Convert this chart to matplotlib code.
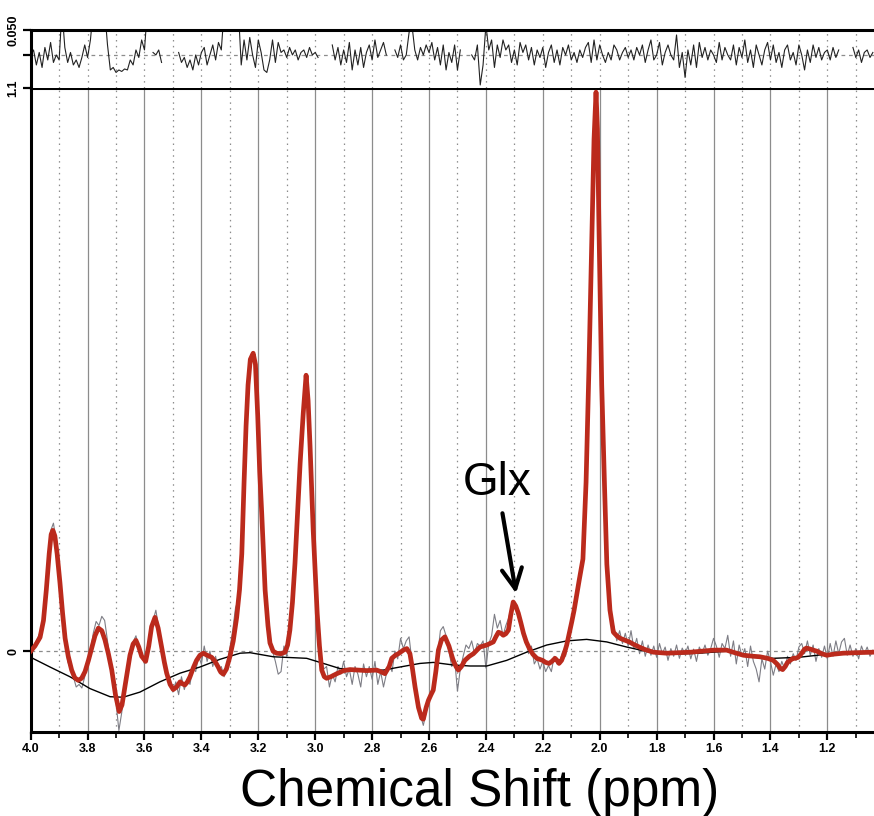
import numpy as np
import matplotlib
matplotlib.use("Agg")
import matplotlib.pyplot as plt
from matplotlib.ticker import FixedLocator

# ---- data (ppm, amplitude) ----
major_ticks = [4.0, 3.8, 3.6, 3.4, 3.2, 3.0, 2.8, 2.6, 2.4, 2.2, 2.0, 1.8, 1.6, 1.4, 1.2]
minor_ticks = [3.9, 3.7, 3.5, 3.3, 3.1, 2.9, 2.7, 2.5, 2.3, 2.1, 1.9, 1.7, 1.5, 1.3, 1.1]
major_labels = ["%.1f" % t for t in major_ticks]

# measured data (gray), sampled every 0.01 ppm from 4.00 down to 1.04
data_ppm = np.linspace(4.00, 1.04, 297)
data_val = [
    0.000, 0.010, 0.020, 0.033, 0.040, 0.090, 0.160, 0.235, 0.250, 0.215,
    0.160, 0.085, 0.030, -0.020, -0.035, -0.050, -0.070, -0.065, -0.072, -0.050,
    -0.025, 0.000, 0.035, 0.058, 0.050, 0.068, 0.060, 0.020, -0.020, -0.060,
    -0.100, -0.155, -0.120, -0.075, -0.040, -0.010, 0.018, 0.030, 0.005, -0.005,
    -0.025, -0.010, 0.030, 0.060, 0.080, 0.045, 0.015, -0.010, -0.045, -0.055,
    -0.080, -0.060, -0.085, -0.050, -0.075, -0.055, -0.065, -0.030, -0.040, -0.010,
    -0.025, 0.010, -0.020, 0.000, -0.030, -0.010, -0.040, -0.030, -0.050, -0.025,
    0.005, 0.040, 0.085, 0.100, 0.170, 0.330, 0.470, 0.560, 0.585, 0.555,
    0.440, 0.310, 0.170, 0.080, 0.030, 0.000, -0.020, -0.045, -0.040, 0.010,
    -0.010, 0.035, 0.100, 0.180, 0.290, 0.390, 0.480, 0.540, 0.440, 0.280,
    0.140, 0.050, -0.010, -0.035, -0.030, -0.070, -0.045, -0.060, -0.030, -0.045,
    -0.020, -0.050, -0.035, -0.065, -0.030, -0.045, -0.070, -0.025, -0.050, -0.030,
    -0.055, -0.020, -0.065, -0.040, -0.070, -0.045, -0.025, -0.040, 0.000, -0.015,
    0.025, 0.005, 0.020, 0.028, -0.020, -0.060, -0.090, -0.125, -0.145, -0.120,
    -0.090, -0.080, -0.055, -0.010, 0.040, 0.048, 0.030, 0.000, -0.030, -0.015,
    -0.078, -0.035, -0.010, 0.012, 0.005, 0.020, -0.005, 0.015, 0.010, 0.020,
    -0.033, 0.015, 0.030, 0.072, 0.045, 0.060, 0.030, 0.050, 0.065, 0.085,
    0.090, 0.075, 0.065, 0.040, 0.025, -0.005, 0.010, -0.025, -0.015, -0.035,
    -0.020, -0.040, -0.028, -0.040, -0.010, -0.025, -0.020, 0.000, -0.010, 0.030,
    0.050, 0.085, 0.115, 0.150, 0.190, 0.300, 0.500, 0.740, 1.000, 1.070,
    0.740, 0.450, 0.250, 0.130, 0.060, 0.048, 0.020, 0.040, 0.015, 0.035,
    0.010, 0.040, 0.005, 0.025, -0.005, 0.020, -0.010, 0.012, -0.008, 0.010,
    -0.012, 0.015, -0.005, 0.008, -0.018, 0.005, -0.010, 0.012, -0.014, 0.006,
    -0.006, 0.010, -0.015, 0.004, -0.020, 0.008, -0.004, 0.012, -0.008, 0.005,
    0.025, 0.010, -0.012, 0.015, 0.005, 0.031, -0.010, 0.020, -0.025, 0.012,
    -0.010, 0.005, -0.030, 0.010, -0.020, -0.035, -0.060, -0.015, -0.035, 0.000,
    -0.020, -0.047, -0.025, -0.040, -0.020, -0.035, -0.010, -0.025, -0.005, -0.018,
    0.008, 0.015, -0.005, 0.020, -0.008, 0.012, -0.020, 0.005, -0.012, 0.010,
    -0.015, 0.015, -0.010, 0.020, -0.005, 0.018, 0.025, -0.008, 0.012, -0.010,
    0.005, -0.015, 0.010, -0.005, 0.008, -0.010, 0.002]

# model fit (red)
fit_ppm = [
    4.000, 3.985, 3.967, 3.955, 3.945, 3.935, 3.928, 3.922, 3.915, 3.907,
    3.897, 3.888, 3.879, 3.868, 3.856, 3.845, 3.833, 3.821, 3.809, 3.797,
    3.786, 3.774, 3.762, 3.750, 3.739, 3.727, 3.715, 3.702, 3.689, 3.679,
    3.669, 3.660, 3.651, 3.640, 3.630, 3.620, 3.610, 3.596, 3.585, 3.575,
    3.563, 3.552, 3.540, 3.530, 3.522, 3.510, 3.499, 3.487, 3.475, 3.466,
    3.458, 3.449, 3.440, 3.428, 3.417, 3.405, 3.393, 3.380, 3.364, 3.352,
    3.341, 3.332, 3.323, 3.312, 3.300, 3.288, 3.276, 3.266, 3.258, 3.250,
    3.243, 3.236, 3.228, 3.218, 3.210, 3.202, 3.195, 3.188, 3.176, 3.166,
    3.159, 3.148, 3.136, 3.120, 3.106, 3.097, 3.089, 3.080, 3.071, 3.062,
    3.053, 3.042, 3.032, 3.025, 3.018, 3.007, 2.993, 2.985, 2.977, 2.968,
    2.960, 2.945, 2.924, 2.900, 2.878, 2.850, 2.819, 2.784, 2.770, 2.755,
    2.740, 2.731, 2.718, 2.708, 2.690, 2.678, 2.667, 2.658, 2.649, 2.637,
    2.626, 2.620, 2.610, 2.602, 2.593, 2.585, 2.576, 2.567, 2.556, 2.544,
    2.530, 2.515, 2.505, 2.497, 2.486, 2.474, 2.458, 2.444, 2.421, 2.397,
    2.374, 2.365, 2.356, 2.347, 2.339, 2.330, 2.321, 2.313, 2.304, 2.295,
    2.286, 2.277, 2.268, 2.258, 2.248, 2.235, 2.221, 2.201, 2.190, 2.178,
    2.168, 2.157, 2.150, 2.143, 2.134, 2.125, 2.116, 2.107, 2.098, 2.090,
    2.081, 2.072, 2.059, 2.048, 2.038, 2.027, 2.020, 2.013, 2.008, 2.003,
    1.993, 1.983, 1.975, 1.964, 1.952, 1.940, 1.928, 1.910, 1.896, 1.880,
    1.861, 1.840, 1.812, 1.765, 1.720, 1.680, 1.640, 1.600, 1.554, 1.520,
    1.495, 1.460, 1.437, 1.410, 1.390, 1.375, 1.365, 1.357, 1.348, 1.340,
    1.331, 1.320, 1.313, 1.302, 1.290, 1.280, 1.273, 1.260, 1.250, 1.237,
    1.220, 1.202, 1.180, 1.144, 1.100, 1.036]
fit_val = [
    0.000, 0.010, 0.027, 0.060, 0.120, 0.190, 0.228, 0.236, 0.225, 0.190,
    0.133, 0.075, 0.025, -0.010, -0.037, -0.052, -0.057, -0.053, -0.040, -0.018,
    0.005, 0.030, 0.045, 0.040, 0.022, -0.005, -0.037, -0.085, -0.118, -0.105,
    -0.070, -0.038, -0.008, 0.014, 0.021, 0.008, -0.010, -0.020, 0.010, 0.048,
    0.066, 0.045, 0.008, -0.022, -0.043, -0.065, -0.075, -0.070, -0.060, -0.064,
    -0.066, -0.060, -0.050, -0.032, -0.018, -0.008, -0.004, -0.008, -0.012, -0.020,
    -0.031, -0.041, -0.045, -0.035, -0.011, 0.020, 0.066, 0.120, 0.190, 0.330,
    0.440, 0.520, 0.570, 0.582, 0.560, 0.460, 0.350, 0.270, 0.119, 0.050,
    0.016, 0.000, -0.004, -0.005, -0.002, 0.012, 0.041, 0.095, 0.172, 0.270,
    0.367, 0.465, 0.539, 0.490, 0.399, 0.236, 0.074, 0.010, -0.037, -0.050,
    -0.053, -0.050, -0.044, -0.038, -0.036, -0.037, -0.038, -0.037, -0.040, -0.044,
    -0.030, -0.014, -0.008, -0.005, 0.002, 0.005, -0.005, -0.035, -0.070, -0.110,
    -0.131, -0.133, -0.110, -0.096, -0.085, -0.076, -0.040, 0.002, 0.022, 0.028,
    0.010, -0.018, -0.030, -0.037, -0.030, -0.018, -0.010, -0.005, 0.008, 0.012,
    0.018, 0.028, 0.037, 0.035, 0.031, 0.034, 0.041, 0.070, 0.096, 0.088,
    0.074, 0.055, 0.035, 0.018, 0.006, -0.006, -0.014, -0.018, -0.022, -0.024,
    -0.020, -0.014, -0.018, -0.024, -0.018, -0.005, 0.012, 0.035, 0.058, 0.080,
    0.110, 0.139, 0.180, 0.330, 0.550, 0.820, 1.000, 1.092, 1.020, 0.840,
    0.520, 0.320, 0.170, 0.080, 0.037, 0.030, 0.025, 0.021, 0.018, 0.013,
    0.008, 0.003, -0.002, -0.004, -0.003, -0.002, 0.000, 0.002, 0.002, -0.004,
    -0.008, -0.010, -0.011, -0.014, -0.018, -0.026, -0.034, -0.036, -0.030, -0.022,
    -0.018, -0.014, -0.014, -0.012, -0.004, 0.004, 0.006, 0.004, 0.002, 0.000,
    -0.005, -0.008, -0.006, -0.004, -0.003, -0.002]

# baseline (black)
base_ppm = [4.000, 3.932, 3.862, 3.792, 3.721, 3.675, 3.616, 3.546, 3.475, 3.405,
            3.335, 3.264, 3.229, 3.147, 3.030, 2.971, 2.913, 2.843, 2.761, 2.702,
            2.632, 2.585, 2.515, 2.456, 2.397, 2.327, 2.257, 2.186, 2.116, 2.046,
            1.975, 1.905, 1.823, 1.753, 1.650, 1.554, 1.470, 1.390, 1.300, 1.202,
            1.036]
base_val = [-0.012, -0.031, -0.050, -0.073, -0.089, -0.090, -0.080, -0.060, -0.043, -0.031,
            -0.016, -0.004, -0.003, -0.011, -0.014, -0.024, -0.034, -0.037, -0.037, -0.031,
            -0.024, -0.022, -0.027, -0.029, -0.029, -0.018, -0.002, 0.012, 0.020, 0.023,
            0.018, 0.008, -0.002, -0.006, -0.004, 0.000, -0.008, -0.014, -0.012, -0.006,
            -0.002]

# residual (top panel), same 0.01 ppm sampling; nan = not drawn
nan = np.nan
resid_val = [
    0.000, 0.010, -0.020, 0.005, -0.025, 0.015, -0.010, 0.025, -0.015, 0.000,
    -0.010, 0.090, 0.015, -0.015, 0.005, -0.020, -0.010, -0.025, -0.005, 0.020,
    -0.005, 0.030, 0.090, 0.090, 0.090, 0.090, 0.090, 0.020, -0.030, -0.025,
    -0.035, -0.030, -0.033, -0.028, -0.030, -0.010, -0.020, 0.010, -0.005, 0.030,
    0.010, 0.090, nan, 0.005, 0.000, 0.010, -0.015, nan, nan, nan,
    nan, nan, 0.005, -0.015, -0.005, -0.025, -0.010, -0.030, 0.000, -0.020,
    0.005, 0.015, -0.020, 0.000, 0.020, -0.010, 0.025, 0.010, 0.090, nan,
    nan, nan, nan, 0.090, -0.020, 0.030, -0.010, 0.035, 0.000, -0.025,
    0.030, 0.005, -0.030, -0.035, -0.010, 0.030, -0.015, 0.025, 0.005, 0.010,
    -0.005, 0.015, 0.000, 0.010, -0.010, 0.005, 0.010, -0.005, 0.015, 0.000,
    0.005, -0.005, nan, nan, nan, nan, 0.020, -0.010, 0.015, -0.020,
    0.010, -0.015, 0.025, -0.030, 0.010, -0.020, 0.015, -0.025, 0.005, 0.020,
    -0.010, 0.030, -0.005, 0.010, 0.025, 0.000, nan, nan, 0.010, -0.005,
    0.020, -0.010, 0.000, 0.045, 0.060, 0.010, -0.010, 0.015, 0.000, 0.020,
    0.005, 0.025, -0.010, 0.015, -0.020, 0.020, -0.030, 0.005, -0.015, 0.020,
    -0.030, 0.010, nan, nan, nan, 0.000, -0.010, 0.020, -0.060, -0.020,
    0.060, 0.010, 0.030, -0.025, 0.020, -0.005, 0.030, 0.010, 0.020, -0.015,
    0.010, -0.020, 0.025, 0.005, 0.020, -0.010, 0.015, -0.020, 0.010, -0.005,
    0.015, -0.025, 0.005, 0.020, -0.015, 0.010, -0.020, 0.015, 0.000, 0.020,
    -0.010, 0.005, -0.015, 0.010, -0.005, 0.015, 0.025, -0.015, 0.030, -0.010,
    0.020, 0.000, -0.015, 0.005, -0.010, 0.020, 0.010, -0.010, 0.005, 0.015,
    -0.005, 0.010, -0.010, 0.015, 0.000, 0.020, -0.015, 0.010, 0.030, -0.010,
    0.000, 0.025, -0.020, 0.005, 0.020, 0.000, -0.010, 0.040, -0.025, 0.005,
    -0.045, 0.010, -0.020, 0.020, -0.025, 0.025, -0.005, 0.015, -0.010, 0.010,
    0.000, -0.015, 0.025, -0.010, 0.015, 0.000, -0.010, 0.020, -0.020, 0.015,
    -0.005, 0.030, -0.015, 0.010, -0.025, 0.020, 0.000, -0.020, 0.010, 0.025,
    -0.010, 0.020, -0.015, 0.005, -0.025, 0.010, 0.020, -0.010, 0.005, -0.020,
    0.020, 0.000, -0.030, 0.010, -0.015, 0.020, -0.005, 0.015, -0.010, 0.005,
    0.010, -0.010, 0.015, -0.005, 0.010, nan, nan, nan, nan, 0.015,
    -0.005, 0.010, -0.015, 0.005, 0.010, -0.005, 0.005]

assert len(data_val) == len(data_ppm) == len(resid_val)
assert len(fit_ppm) == len(fit_val)
assert len(base_ppm) == len(base_val)

XLIM = (4.0, 1.036)
GRID = "#8c8c8c"
RED = "#bb2a1c"

plt.rcParams["font.family"] = ["Liberation Sans", "DejaVu Sans"]

fig = plt.figure(figsize=(8.74, 8.16), dpi=100)
ax = fig.add_axes([0.0351, 0.1029, 0.9649, 0.7892])
res = fig.add_axes([0.0351, 0.8922, 0.9649, 0.0711])

# ---- main panel ----
for p in major_ticks[1:]:
    ax.axvline(p, color=GRID, lw=0.9, zorder=1)
for p in minor_ticks:
    ax.axvline(p, color=GRID, lw=0.9, ls=(0, (1.2, 3.5)), zorder=1)
ax.axhline(0, color=GRID, lw=0.9, ls=(0, (3, 3)), zorder=1)

ax.plot(data_ppm, data_val, color="#7d7d85", lw=0.8, zorder=2)
ax.plot(base_ppm, base_val, color="black", lw=1.0, zorder=3)
ax.plot(fit_ppm, fit_val, color=RED, lw=3.4, solid_joinstyle="round", zorder=4)

ax.annotate("Glx", xy=(2.294, 0.113), xytext=(2.36, 0.305),
            ha="center", va="baseline", fontsize=33,
            arrowprops=dict(arrowstyle="->", lw=3.0, color="black",
                            mutation_scale=36, shrinkA=4, shrinkB=0))

ax.set_xlim(*XLIM)
ax.set_ylim(-0.158, 1.1)
ax.xaxis.set_major_locator(FixedLocator(major_ticks))
ax.xaxis.set_minor_locator(FixedLocator(minor_ticks))
ax.set_xticklabels(major_labels, fontweight="bold")
ax.tick_params(axis="x", which="major", direction="out", length=6, width=1.6,
               labelsize=9, pad=2)
ax.tick_params(axis="x", which="minor", direction="out", length=4, width=1.2)
ax.set_yticks([0, 1.1])
ax.set_yticklabels(["0", "1.1"], rotation=90, va="center", fontweight="bold")
ax.tick_params(axis="y", direction="out", length=6, width=1.6, labelsize=9, pad=2)

for side in ["left", "bottom", "top"]:
    ax.spines[side].set_linewidth(2.2)
ax.spines["right"].set_visible(False)

# ---- residual panel ----
for p in major_ticks[1:] + minor_ticks:
    res.axvline(p, color=GRID, lw=0.9, ls=(0, (1.2, 3.5)), zorder=1)
res.axhline(0, color=GRID, lw=0.9, ls=(0, (3, 3)), zorder=1)
res.plot(data_ppm, resid_val, color="#222222", lw=0.8, zorder=2)
res.set_xlim(*XLIM)
res.set_ylim(-0.066, 0.05)
res.set_xticks([])
res.set_yticks([0, 0.05])
res.set_yticklabels(["", "0.050"], rotation=90, va="center", fontweight="bold")
res.tick_params(axis="y", direction="out", length=6, width=1.6, labelsize=9, pad=2)
res.spines["left"].set_linewidth(2.2)
res.spines["top"].set_linewidth(2.2)
res.spines["right"].set_visible(False)
res.spines["bottom"].set_visible(False)

fig.text(0.549, 0.012, "Chemical Shift (ppm)", ha="center", va="baseline", fontsize=37)

fig.savefig("out.png", dpi=100)
